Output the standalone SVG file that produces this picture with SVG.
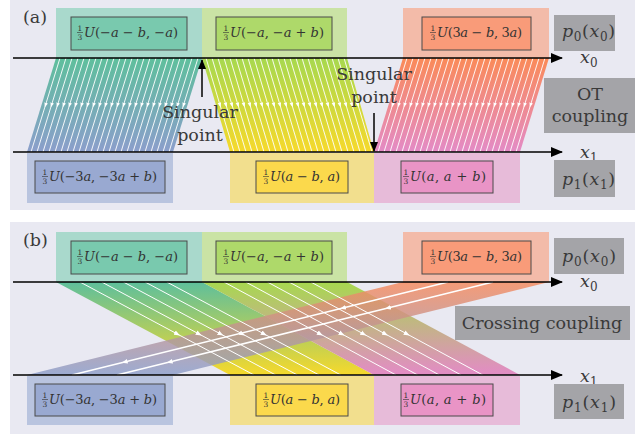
<svg xmlns="http://www.w3.org/2000/svg" width="640" height="437" viewBox="0 0 640 437" font-family="'DejaVu Serif',serif">
<style>
text{font-family:'DejaVu Serif',serif}
.bg{fill:#e9e9f2}
.ax{stroke:#000;stroke-width:1.5;fill:none;marker-end:url(#axh)}
.sg{stroke:#000;stroke-width:1.5;fill:none;marker-end:url(#sgh)}
.in{stroke:#4a4a4a;stroke-width:1}
.m{font-size:13px;fill:#333}
.i{font-style:italic}
.fr{font-size:7.5px;fill:#333;text-anchor:middle}
.fb{stroke:#333;stroke-width:0.6}
.gb{fill:#a4a4a8}
.gt{font-size:17.5px;fill:#3a3a3a}
.lbl{font-size:17.5px;fill:#3a3a3a}
.sb{font-size:12px}
.c{text-anchor:middle}
.wl{fill:none;stroke:#fff;stroke-width:0.9;marker-mid:url(#wah)}
.wb{fill:none;stroke:#fff;stroke-width:1;marker-mid:url(#wah2)}
.wo{fill:none;stroke:#fff;stroke-width:1.5;marker-mid:url(#wah2)}
</style>
<defs>
<marker id="axh" viewBox="0 0 12 10" refX="11" refY="5" markerWidth="12" markerHeight="10" markerUnits="userSpaceOnUse" orient="auto"><path d="M0,0L12,5L0,10z" fill="#000"/></marker>
<marker id="sgh" viewBox="0 0 10 8" refX="9" refY="4" markerWidth="10" markerHeight="8" markerUnits="userSpaceOnUse" orient="auto"><path d="M0,0L10,4L0,8z" fill="#000"/></marker>
<marker id="wah" viewBox="0 0 10 10" refX="5" refY="5" markerWidth="4.5" markerHeight="4.5" markerUnits="userSpaceOnUse" orient="auto"><path d="M0,1L10,5L0,9z" fill="#fff"/></marker>
<marker id="wah2" viewBox="0 0 10 10" refX="5" refY="5" markerWidth="6" markerHeight="6" markerUnits="userSpaceOnUse" orient="auto"><path d="M0,1L10,5L0,9z" fill="#fff"/></marker>
<linearGradient id="ga1" gradientUnits="userSpaceOnUse" x1="0" y1="58" x2="0" y2="152"><stop offset="0" stop-color="#5ebf9c"/><stop offset="1" stop-color="#8b9ecb"/></linearGradient>
<linearGradient id="ga2" gradientUnits="userSpaceOnUse" x1="0" y1="58" x2="0" y2="152"><stop offset="0" stop-color="#a7d84f"/><stop offset="1" stop-color="#f6d92b"/></linearGradient>
<linearGradient id="ga3" gradientUnits="userSpaceOnUse" x1="0" y1="58" x2="0" y2="152"><stop offset="0" stop-color="#fa8a58"/><stop offset="1" stop-color="#e38bc6"/></linearGradient>
<linearGradient id="gb1" gradientUnits="userSpaceOnUse" x1="0" y1="282" x2="0" y2="375"><stop offset="0" stop-color="#5ebf9c"/><stop offset="1" stop-color="#f6d92b"/></linearGradient>
<linearGradient id="gb2" gradientUnits="userSpaceOnUse" x1="0" y1="282" x2="0" y2="375"><stop offset="0" stop-color="#a7d84f"/><stop offset="1" stop-color="#e38bc6"/></linearGradient>
<linearGradient id="gb3" gradientUnits="userSpaceOnUse" x1="0" y1="282" x2="0" y2="375"><stop offset="0" stop-color="#f78a5c"/><stop offset="1" stop-color="#8b9ecb"/></linearGradient>
<path id="la1" class="wl" d="M60 58L45.5 105L31 152"/>
<path id="la2" class="wl" d="M206 58L220 105L234 152"/>
<path id="la3" class="wl" d="M407 58L392.5 105L378 152"/>
<path id="lb1" class="wb" d="M80 282L177.3 334L254 375"/>
<path id="lb2" class="wb" d="M224 282L320.2 334L396 375"/>
</defs>

<rect class="bg" x="10" y="0" width="625" height="210"/>
<rect class="bg" x="10" y="222" width="625" height="212"/>

<!-- ===== Panel (a) ===== -->
<text class="lbl" x="23" y="23">(a)</text>

<g id="a-top-teal">
<rect x="56" y="8" width="146" height="50" fill="#a9d9cc"/>
<rect class="in" x="71" y="17" width="116" height="33" fill="#79c9ae"/>
<text class="fr" x="80" y="31">1</text><line class="fb" x1="77" y1="32.5" x2="83" y2="32.5"/><text class="fr" x="80" y="39.5">3</text>
<text class="m" x="84" y="37" textLength="94" lengthAdjust="spacing"><tspan class="i">U</tspan>(−<tspan class="i">a</tspan> − <tspan class="i">b</tspan>, −<tspan class="i">a</tspan>)</text>
</g>
<g id="a-top-green">
<rect x="202" y="8" width="145" height="50" fill="#cae3a5"/>
<rect class="in" x="216" y="17" width="116" height="33" fill="#aed96a"/>
<text class="fr" x="226" y="31">1</text><line class="fb" x1="223" y1="32.5" x2="229" y2="32.5"/><text class="fr" x="226" y="39.5">3</text>
<text class="m" x="230" y="37" textLength="94" lengthAdjust="spacing"><tspan class="i">U</tspan>(−<tspan class="i">a</tspan>, −<tspan class="i">a</tspan> + <tspan class="i">b</tspan>)</text>
</g>
<g id="a-top-orange">
<rect x="403" y="8" width="146" height="50" fill="#f3bba9"/>
<rect class="in" x="422" y="17" width="109" height="33" fill="#f99b79"/>
<text class="fr" x="433" y="31">1</text><line class="fb" x1="430" y1="32.5" x2="436" y2="32.5"/><text class="fr" x="433" y="39.5">3</text>
<text class="m" x="437" y="37" textLength="85" lengthAdjust="spacing"><tspan class="i">U</tspan>(3<tspan class="i">a</tspan> − <tspan class="i">b</tspan>, 3<tspan class="i">a</tspan>)</text>
</g>
<g id="a-bot-blue">
<rect x="27" y="153" width="146" height="50" fill="#b9c4df"/>
<rect class="in" x="35" y="161" width="130" height="32" fill="#99a9d1"/>
<text class="fr" x="45" y="175">1</text><line class="fb" x1="42" y1="176.5" x2="48" y2="176.5"/><text class="fr" x="45" y="183.5">3</text>
<text class="m" x="49" y="181" textLength="108" lengthAdjust="spacing"><tspan class="i">U</tspan>(−3<tspan class="i">a</tspan>, −3<tspan class="i">a</tspan> + <tspan class="i">b</tspan>)</text>
</g>
<g id="a-bot-yellow">
<rect x="230" y="153" width="144" height="50" fill="#f2df8e"/>
<rect class="in" x="256" y="161" width="92" height="32" fill="#fbd94c"/>
<text class="fr" x="266" y="175">1</text><line class="fb" x1="263" y1="176.5" x2="269" y2="176.5"/><text class="fr" x="266" y="183.5">3</text>
<text class="m" x="270" y="181" textLength="70" lengthAdjust="spacing"><tspan class="i">U</tspan>(<tspan class="i">a</tspan> − <tspan class="i">b</tspan>, <tspan class="i">a</tspan>)</text>
</g>
<g id="a-bot-pink">
<rect x="374" y="153" width="146" height="50" fill="#e7bbd9"/>
<rect class="in" x="401" y="161" width="92" height="32" fill="#e994c6"/>
<text class="fr" x="406" y="175">1</text><line class="fb" x1="403" y1="176.5" x2="409" y2="176.5"/><text class="fr" x="406" y="183.5">3</text>
<text class="m" x="410" y="181" textLength="76" lengthAdjust="spacing"><tspan class="i">U</tspan>(<tspan class="i">a</tspan>, <tspan class="i">a</tspan> + <tspan class="i">b</tspan>)</text>
</g>

<g id="a-bands">
<polygon points="56,58 202,58 173,152 27,152" fill="url(#ga1)"/>
<polygon points="202,58 347,58 374,152 230,152" fill="url(#ga2)"/>
<polygon points="403,58 549,58 520,152 374,152" fill="url(#ga3)"/>
</g>

<g id="a-connectors">
<use href="#la1" x="0"/><use href="#la1" x="6"/><use href="#la1" x="12"/><use href="#la1" x="18"/><use href="#la1" x="24"/><use href="#la1" x="30"/><use href="#la1" x="36"/><use href="#la1" x="42"/><use href="#la1" x="48"/><use href="#la1" x="54"/><use href="#la1" x="60"/><use href="#la1" x="66"/><use href="#la1" x="72"/><use href="#la1" x="78"/><use href="#la1" x="84"/><use href="#la1" x="90"/><use href="#la1" x="96"/><use href="#la1" x="102"/><use href="#la1" x="108"/><use href="#la1" x="114"/><use href="#la1" x="120"/><use href="#la1" x="126"/><use href="#la1" x="132"/><use href="#la1" x="138"/>
<use href="#la2" x="0"/><use href="#la2" x="6"/><use href="#la2" x="12"/><use href="#la2" x="18"/><use href="#la2" x="24"/><use href="#la2" x="30"/><use href="#la2" x="36"/><use href="#la2" x="42"/><use href="#la2" x="48"/><use href="#la2" x="54"/><use href="#la2" x="60"/><use href="#la2" x="66"/><use href="#la2" x="72"/><use href="#la2" x="78"/><use href="#la2" x="84"/><use href="#la2" x="90"/><use href="#la2" x="96"/><use href="#la2" x="102"/><use href="#la2" x="108"/><use href="#la2" x="114"/><use href="#la2" x="120"/><use href="#la2" x="126"/><use href="#la2" x="132"/><use href="#la2" x="138"/>
<use href="#la3" x="0"/><use href="#la3" x="6"/><use href="#la3" x="12"/><use href="#la3" x="18"/><use href="#la3" x="24"/><use href="#la3" x="30"/><use href="#la3" x="36"/><use href="#la3" x="42"/><use href="#la3" x="48"/><use href="#la3" x="54"/><use href="#la3" x="60"/><use href="#la3" x="66"/><use href="#la3" x="72"/><use href="#la3" x="78"/><use href="#la3" x="84"/><use href="#la3" x="90"/><use href="#la3" x="96"/><use href="#la3" x="102"/><use href="#la3" x="108"/><use href="#la3" x="114"/><use href="#la3" x="120"/><use href="#la3" x="126"/><use href="#la3" x="132"/><use href="#la3" x="138"/>
<line class="ax" x1="13" y1="58" x2="562" y2="58"/>
<line class="ax" x1="13" y1="152" x2="562" y2="152"/>
<line class="sg" x1="202" y1="97" x2="202" y2="60"/>
<line class="sg" x1="374" y1="113" x2="374" y2="151"/>
</g>

<g id="a-singular1">
<text class="lbl c" x="200" y="118">Singular</text>
<text class="lbl c" x="200" y="141">point</text>
</g>
<g id="a-singular2">
<text class="lbl c" x="374" y="80">Singular</text>
<text class="lbl c" x="374" y="103">point</text>
</g>

<g id="a-x0"><text class="lbl" x="580" y="63"><tspan class="i">x</tspan><tspan class="sb" dy="4">0</tspan></text></g>
<g id="a-x1"><text class="lbl" x="580" y="158"><tspan class="i">x</tspan><tspan class="sb" dy="4">1</tspan></text></g>

<g id="a-p0">
<rect class="gb" x="554" y="15" width="61" height="36"/>
<text class="gt" x="562" y="37" textLength="53" lengthAdjust="spacing"><tspan class="i">p</tspan><tspan class="sb" dy="4">0</tspan><tspan dy="-4">(</tspan><tspan class="i">x</tspan><tspan class="sb" dy="4">0</tspan><tspan dy="-4">)</tspan></text>
</g>
<g id="a-ot">
<rect class="gb" x="544" y="78" width="91" height="55"/>
<text class="gt c" x="590" y="100">OT</text>
<text class="gt c" x="590" y="122">coupling</text>
</g>
<g id="a-p1">
<rect class="gb" x="554" y="160" width="61" height="37"/>
<text class="gt" x="562" y="185" textLength="53" lengthAdjust="spacing"><tspan class="i">p</tspan><tspan class="sb" dy="4">1</tspan><tspan dy="-4">(</tspan><tspan class="i">x</tspan><tspan class="sb" dy="4">1</tspan><tspan dy="-4">)</tspan></text>
</g>

<!-- ===== Panel (b) ===== -->
<text class="lbl" x="23" y="246">(b)</text>

<g id="b-top-teal">
<rect x="56" y="232" width="146" height="50" fill="#a9d9cc"/>
<rect class="in" x="71" y="241" width="116" height="33" fill="#79c9ae"/>
<text class="fr" x="80" y="255">1</text><line class="fb" x1="77" y1="256.5" x2="83" y2="256.5"/><text class="fr" x="80" y="263.5">3</text>
<text class="m" x="84" y="261" textLength="94" lengthAdjust="spacing"><tspan class="i">U</tspan>(−<tspan class="i">a</tspan> − <tspan class="i">b</tspan>, −<tspan class="i">a</tspan>)</text>
</g>
<g id="b-top-green">
<rect x="202" y="232" width="145" height="50" fill="#cae3a5"/>
<rect class="in" x="216" y="241" width="116" height="33" fill="#aed96a"/>
<text class="fr" x="226" y="255">1</text><line class="fb" x1="223" y1="256.5" x2="229" y2="256.5"/><text class="fr" x="226" y="263.5">3</text>
<text class="m" x="230" y="261" textLength="94" lengthAdjust="spacing"><tspan class="i">U</tspan>(−<tspan class="i">a</tspan>, −<tspan class="i">a</tspan> + <tspan class="i">b</tspan>)</text>
</g>
<g id="b-top-orange">
<rect x="403" y="232" width="146" height="50" fill="#f3bba9"/>
<rect class="in" x="422" y="241" width="109" height="33" fill="#f99b79"/>
<text class="fr" x="433" y="255">1</text><line class="fb" x1="430" y1="256.5" x2="436" y2="256.5"/><text class="fr" x="433" y="263.5">3</text>
<text class="m" x="437" y="261" textLength="85" lengthAdjust="spacing"><tspan class="i">U</tspan>(3<tspan class="i">a</tspan> − <tspan class="i">b</tspan>, 3<tspan class="i">a</tspan>)</text>
</g>
<g id="b-bot-blue">
<rect x="27" y="376" width="146" height="49" fill="#b9c4df"/>
<rect class="in" x="35" y="384" width="130" height="32" fill="#99a9d1"/>
<text class="fr" x="45" y="398">1</text><line class="fb" x1="42" y1="399.5" x2="48" y2="399.5"/><text class="fr" x="45" y="406.5">3</text>
<text class="m" x="49" y="404" textLength="108" lengthAdjust="spacing"><tspan class="i">U</tspan>(−3<tspan class="i">a</tspan>, −3<tspan class="i">a</tspan> + <tspan class="i">b</tspan>)</text>
</g>
<g id="b-bot-yellow">
<rect x="230" y="376" width="144" height="49" fill="#f2df8e"/>
<rect class="in" x="256" y="384" width="92" height="32" fill="#fbd94c"/>
<text class="fr" x="266" y="398">1</text><line class="fb" x1="263" y1="399.5" x2="269" y2="399.5"/><text class="fr" x="266" y="406.5">3</text>
<text class="m" x="270" y="404" textLength="70" lengthAdjust="spacing"><tspan class="i">U</tspan>(<tspan class="i">a</tspan> − <tspan class="i">b</tspan>, <tspan class="i">a</tspan>)</text>
</g>
<g id="b-bot-pink">
<rect x="374" y="376" width="146" height="49" fill="#e7bbd9"/>
<rect class="in" x="401" y="384" width="92" height="32" fill="#e994c6"/>
<text class="fr" x="406" y="398">1</text><line class="fb" x1="403" y1="399.5" x2="409" y2="399.5"/><text class="fr" x="406" y="406.5">3</text>
<text class="m" x="410" y="404" textLength="76" lengthAdjust="spacing"><tspan class="i">U</tspan>(<tspan class="i">a</tspan>, <tspan class="i">a</tspan> + <tspan class="i">b</tspan>)</text>
</g>

<g id="b-bands">
<polygon points="56,282 202,282 374,375 230,375" fill="url(#gb1)"/>
<polygon points="202,282 347,282 520,375 374,375" fill="url(#gb2)"/>
<polygon points="403,282 549,282 173,375 27,375" fill="url(#gb3)" fill-opacity="0.82"/>
</g>

<g id="b-connectors">
<use href="#lb1" x="0"/><use href="#lb1" x="21.7"/><use href="#lb1" x="43.4"/><use href="#lb1" x="65.1"/><use href="#lb1" x="86.8"/>
<use href="#lb2" x="0"/><use href="#lb2" x="21.7"/><use href="#lb2" x="43.4"/><use href="#lb2" x="65.1"/><use href="#lb2" x="86.8"/>
<path class="wo" d="M448 282L342.9 308L124.6 362L72 375"/>
<path class="wo" d="M493 282L387.9 308L169.6 362L117 375"/>
<line class="ax" x1="13" y1="282" x2="562" y2="282"/>
<line class="ax" x1="13" y1="375" x2="562" y2="375"/>
</g>

<g id="b-x0"><text class="lbl" x="580" y="287"><tspan class="i">x</tspan><tspan class="sb" dy="4">0</tspan></text></g>
<g id="b-x1"><text class="lbl" x="580" y="382"><tspan class="i">x</tspan><tspan class="sb" dy="4">1</tspan></text></g>

<g id="b-p0">
<rect class="gb" x="554" y="238" width="70" height="36"/>
<text class="gt" x="562" y="262" textLength="54" lengthAdjust="spacing"><tspan class="i">p</tspan><tspan class="sb" dy="4">0</tspan><tspan dy="-4">(</tspan><tspan class="i">x</tspan><tspan class="sb" dy="4">0</tspan><tspan dy="-4">)</tspan></text>
</g>
<g id="b-crossing">
<rect class="gb" x="455" y="306" width="175" height="34"/>
<text class="gt c" x="542" y="329">Crossing coupling</text>
</g>
<g id="b-p1">
<rect class="gb" x="554" y="384" width="70" height="35"/>
<text class="gt" x="562" y="408" textLength="54" lengthAdjust="spacing"><tspan class="i">p</tspan><tspan class="sb" dy="4">1</tspan><tspan dy="-4">(</tspan><tspan class="i">x</tspan><tspan class="sb" dy="4">1</tspan><tspan dy="-4">)</tspan></text>
</g>
</svg>
